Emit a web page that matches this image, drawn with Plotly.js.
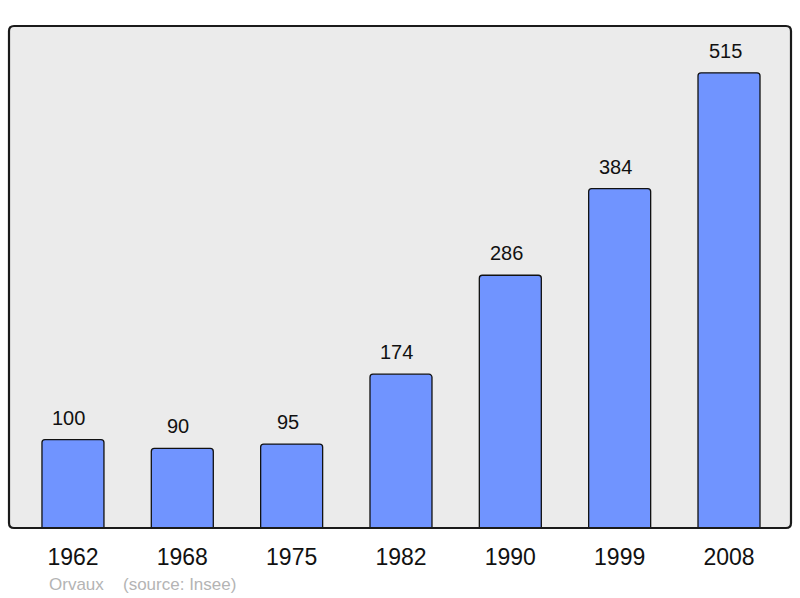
<!DOCTYPE html>
<html>
<head>
<meta charset="utf-8">
<script src="https://cdn.plot.ly/plotly-3.0.1.min.js"></script>
<style>html,body{margin:0;padding:0;background:#fff;}#chart{width:800px;height:598px;}</style>
</head>
<body>
<div id="chart"></div>
<script>
const years = ["1962", "1968", "1975", "1982", "1990", "1999", "2008"];
const population = [100, 90, 95, 174, 286, 384, 515];
const commune = "Orvaux";
const source = "(source: Insee)";

const W = 800, H = 598;
const margin = {l: 9, r: 9, t: 26, b: 70};
const pw = W - margin.l - margin.r, ph = H - margin.t - margin.b;
const rx = 5 / pw, ry = 5 / ph;
const framePath = `M ${rx},0 L ${1-rx},0 Q 1,0 1,${ry} L 1,${1-ry} Q 1,1 ${1-rx},1 L ${rx},1 Q 0,1 0,${1-ry} L 0,${ry} Q 0,0 ${rx},0 Z`;

const trace = {
  type: "bar",
  x: years,
  y: population,
  width: 0.567,
  marker: {color: "#7094ff", line: {color: "#111", width: 1.3}, cornerradius: 3},
  hoverinfo: "none"
};

const valueLabels = years.map((yr, i) => ({
  x: i, y: population[i], xref: "x", yref: "y",
  text: String(population[i]), showarrow: false,
  yanchor: "middle", yshift: 22, xshift: -4,
  font: {family: "Liberation Sans, Arial, sans-serif", size: 20, color: "#111"}
}));

const footer = [
  {text: commune, x: (47 - margin.l) / pw},
  {text: source, x: (121 - margin.l) / pw}
].map(a => ({
  text: a.text, x: a.x, xref: "paper", xanchor: "left",
  y: -(584 - (H - margin.b)) / ph, yref: "paper", yanchor: "middle",
  showarrow: false,
  font: {family: "Liberation Sans, Arial, sans-serif", size: 17, color: "#b4b4b4"}
}));

const layout = {
  width: W, height: H,
  margin: margin,
  paper_bgcolor: "#ffffff",
  plot_bgcolor: "#ebebeb",
  showlegend: false,
  xaxis: {
    type: "category", range: [-0.585, 6.567],
    showgrid: false, zeroline: false, showline: false, ticks: "",
    ticklabelstandoff: 13,
    tickfont: {family: "Liberation Sans, Arial, sans-serif", size: 23, color: "#111"},
    fixedrange: true
  },
  yaxis: {
    range: [0, 568], showgrid: false, zeroline: false, showline: false,
    showticklabels: false, ticks: "", fixedrange: true
  },
  shapes: [{
    type: "path", xref: "paper", yref: "paper", path: framePath,
    line: {color: "#1a1a1a", width: 2.2}, layer: "above"
  }],
  annotations: valueLabels.concat(footer)
};

Plotly.newPlot("chart", [trace], layout, {displayModeBar: false, staticPlot: true});
</script>
</body>
</html>
